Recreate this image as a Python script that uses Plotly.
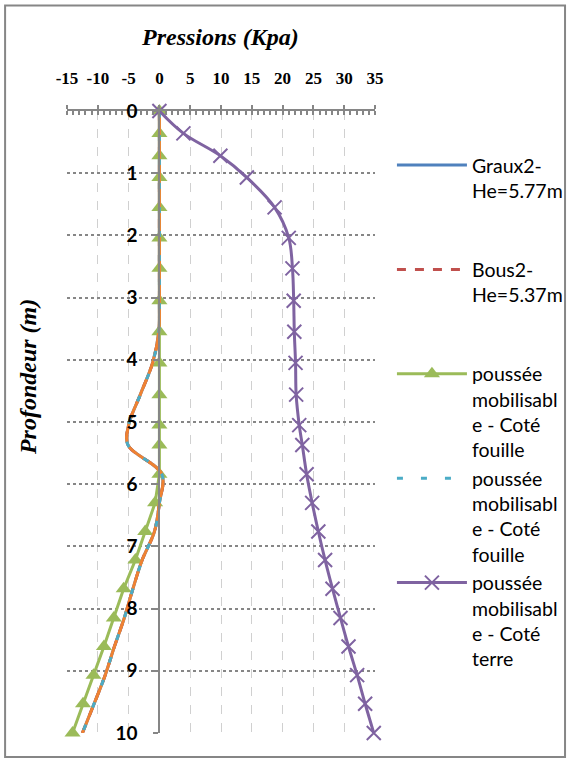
import plotly.graph_objects as go

# profondeur (m) des points de calcul
profondeur = [0, 0.36, 0.72, 1.07, 1.55, 2.04, 2.53, 3.05, 3.55, 4.05, 4.56, 5.05,
              5.37, 5.84, 6.30, 6.76, 7.22, 7.68, 8.15, 8.61, 9.07, 9.53, 10.0]

# pressions (Kpa)
p_ecran = [0, 0, 0, 0, 0, 0, 0, 0, -0.1, -1.1, -3.1, -5.0,
           -5.1, 0.4, 0.0, -0.8, -2.8, -4.3, -5.7, -7.3, -8.8, -10.6, -12.5]
p_fouille = [0, 0, 0, 0, 0, 0, 0, 0, 0, 0, 0, 0,
             0, 0, -0.7, -2.3, -3.9, -5.8, -7.4, -9.0, -10.7, -12.4, -14.1]
p_terre = [0, 3.9, 9.9, 14.2, 18.7, 21.0, 21.6, 21.8, 21.9, 22.1, 22.2, 22.7,
           23.2, 23.9, 24.8, 25.8, 26.9, 28.1, 29.4, 30.7, 32.1, 33.4, 34.8]

x_ticks = [-15, -10, -5, 0, 5, 10, 15, 20, 25, 30, 35]
x_labels = ["-15", "-10", "-5", "0", "5", "10", "15", "20", "25", "30", "35"]
y_ticks = list(range(0, 11))

BLUE = "#4F81BD"
RED = "#C0504D"
GREEN = "#9BBB59"
CYAN = "#4BACC6"
PURPLE = "#7F63A1"
ORANGE = "#EE8233"
GRAY = "#868686"

fig = go.Figure()
fig.add_trace(go.Scatter(x=p_ecran, y=profondeur, mode="lines", line=dict(color=BLUE, width=3, shape="spline"),
                         name="Graux2-<br>He=5.77m<br> <br> "))
fig.add_trace(go.Scatter(x=p_ecran, y=profondeur, mode="lines",
                         line=dict(color=RED, width=3, dash="dash", shape="spline"),
                         name="Bous2-<br>He=5.37m<br> <br> "))
fig.add_trace(go.Scatter(x=p_fouille, y=profondeur, mode="lines+markers", line=dict(color=GREEN, width=3),
                         marker=dict(symbol="triangle-up", size=14, color=GREEN), cliponaxis=False,
                         name="poussée<br>mobilisabl<br>e - Coté<br>fouille"))
fig.add_trace(go.Scatter(x=p_ecran, y=profondeur, mode="lines", line=dict(color=ORANGE, width=3, shape="spline"),
                         showlegend=False))
fig.add_trace(go.Scatter(x=p_ecran, y=profondeur, mode="lines",
                         line=dict(color=CYAN, width=3, dash="6px,18px", shape="spline"),
                         name="poussée<br>mobilisabl<br>e - Coté<br>fouille"))
fig.add_trace(go.Scatter(x=p_terre, y=profondeur, mode="lines+markers",
                         line=dict(color=PURPLE, width=3, shape="spline"),
                         marker=dict(symbol="x-thin", size=14, line=dict(color=PURPLE, width=2)),
                         cliponaxis=False,
                         name="poussée<br>mobilisabl<br>e - Coté<br>terre"))

# cadre du graphique (paper coords, zone de tracé = 67..375 x 111..733 px)
fig.add_shape(type="rect", xref="paper", yref="paper", x0=-0.201, x1=1.617, y0=-0.0386, y1=1.1695,
              line=dict(color=GRAY, width=2), layer="below")

fig.add_annotation(text="<b><i>Pressions (Kpa)</i></b>", xref="paper", yref="paper", x=0.497, y=1.1195,
                   xanchor="center", yanchor="middle", showarrow=False,
                   font=dict(family="Liberation Serif", size=24, color="black"))
fig.add_annotation(text="<b><i>Profondeur (m)</i></b>", xref="paper", yref="paper", x=-0.127, y=0.572,
                   xanchor="center", yanchor="middle", textangle=-90, showarrow=False,
                   font=dict(family="Liberation Serif", size=24, color="black"))

fig.update_layout(
    width=569, height=761,
    margin=dict(l=67, r=194, t=111, b=28, autoexpand=False),
    paper_bgcolor="white", plot_bgcolor="white",
    xaxis=dict(range=[-15, 35], side="top", tickvals=x_ticks, ticktext=x_labels, showline=True,
               linecolor=GRAY, linewidth=2,
               ticks="outside", ticklen=4, tickcolor=GRAY, tickwidth=2, ticklabelstandoff=14,
               tickfont=dict(family="Liberation Serif", size=17, color="black", weight="bold"),
               showgrid=True, gridcolor="#D0D0D0", griddash="dash", gridwidth=1, zeroline=False,
               minor=dict(dtick=1, ticks="inside", ticklen=4, tickcolor=GRAY, showgrid=False)),
    yaxis=dict(range=[10, 0], tickvals=y_ticks, anchor="free", position=0.3, showline=True, linecolor=GRAY,
               linewidth=2, ticks="outside", ticklen=5, tickcolor=GRAY, tickwidth=2, ticklabelstandoff=12,
               tickfont=dict(family="Lato", size=19, color="black", weight="bold"),
               showgrid=True, gridcolor=GRAY, griddash="dot", gridwidth=2, zeroline=False),
    legend=dict(x=1.055, xanchor="left", y=0.944, yanchor="top", valign="top", itemwidth=70,
                font=dict(family="Lato", size=19.5, color="black"), bgcolor="rgba(0,0,0,0)"),
    showlegend=True,
)

fig.write_html("out.html", config={"displayModeBar": False},
               post_script="document.body.style.margin='0px';")
